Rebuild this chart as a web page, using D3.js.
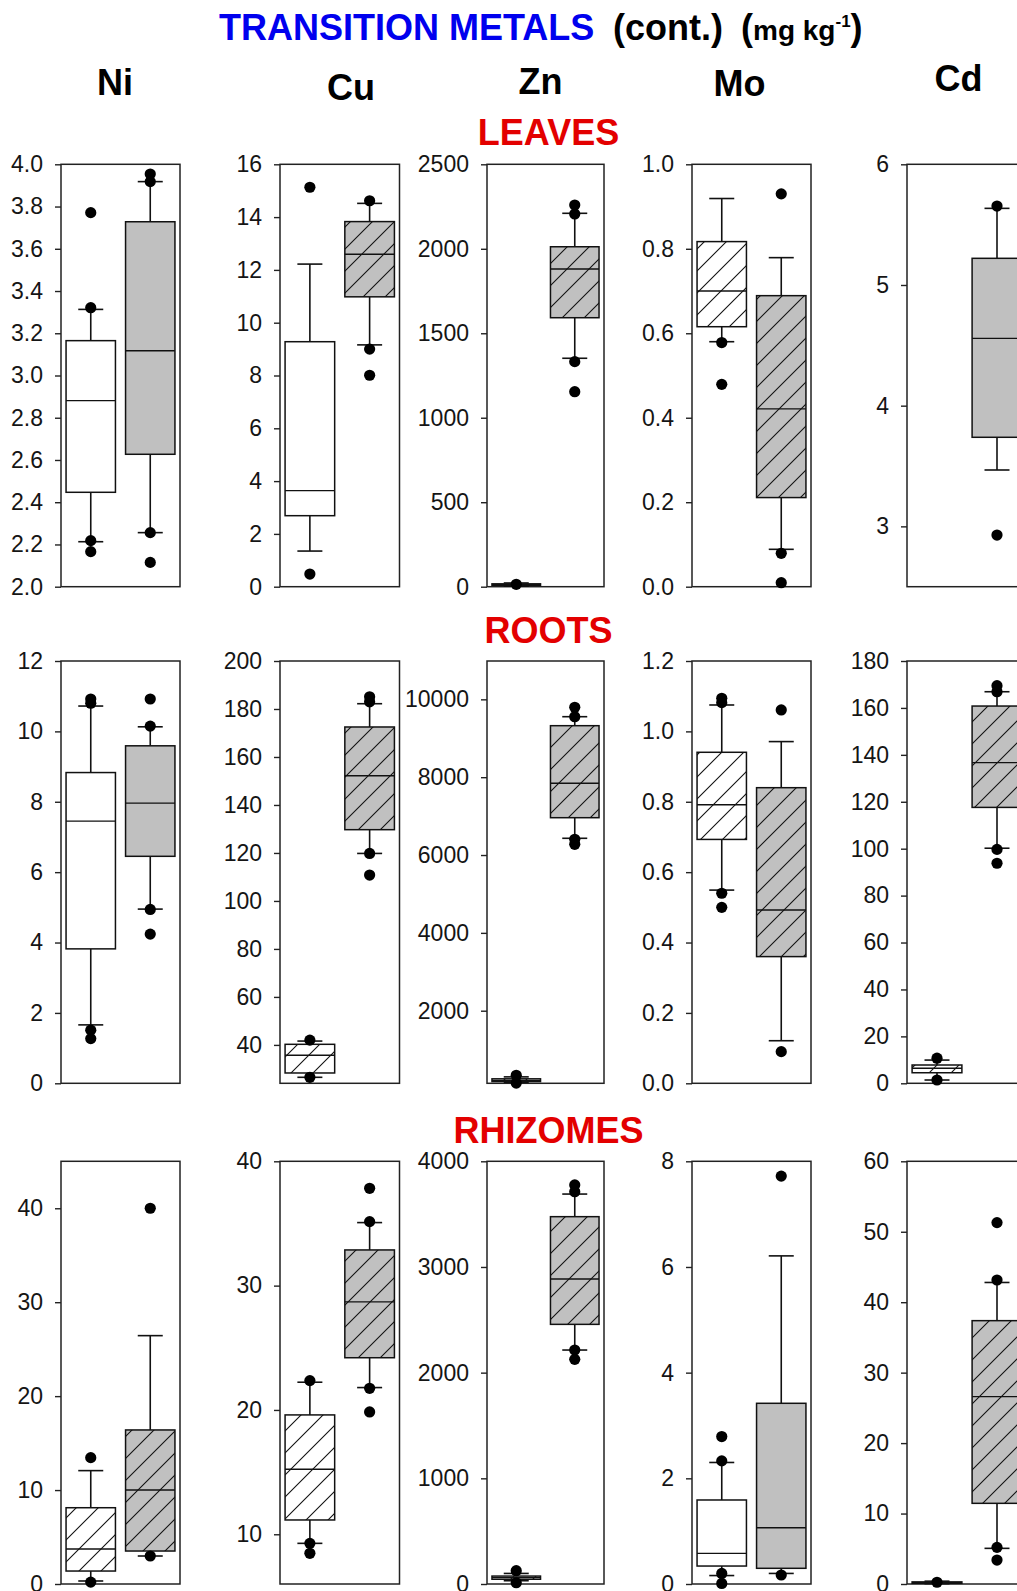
<!DOCTYPE html>
<html>
<head>
<meta charset="utf-8">
<script src="https://cdn.jsdelivr.net/npm/d3@7"></script>
<style>
  body { margin: 0; background: #fff; }
  svg { display: block; }
  text { font-family: "Liberation Sans", Arial, sans-serif; }
</style>
</head>
<body>
<svg id="chart" width="1017" height="1591"></svg>
<script>
// ---- Data -------------------------------------------------------------
const metals = ["Ni", "Cu", "Zn", "Mo", "Cd"];
const tissues = ["LEAVES", "ROOTS", "RHIZOMES"];
const groups = ["A", "B"];

// Box statistics per metal and group: [lower whisker, Q1, median, Q3, upper whisker]
const leavesBoxes = [
  [[2.213, 2.447, 2.881, 3.165, 3.313], [2.256, 2.627, 3.117, 3.728, 3.918]],
  [[1.35, 2.69, 3.64, 9.28, 12.22], [9.16, 10.98, 12.59, 13.83, 14.52]],
  [[3, 8, 12, 17, 22], [1352, 1592, 1880, 2012, 2210]],
  [[0.580, 0.6155, 0.700, 0.817, 0.919], [0.0885, 0.211, 0.421, 0.689, 0.779]],
  [null, [3.467, 3.738, 4.558, 5.221, 5.635]]
];
const rootsBoxes = [
  [[1.66, 3.82, 7.45, 8.83, 10.72], [4.95, 6.45, 7.96, 9.59, 10.13]],
  [[26.5, 28.3, 35.7, 40.25, 41.6], [119.8, 129.7, 152.2, 172.5, 182.2]],
  [[160, 180, 210, 250, 300], [6430, 6959, 7843, 9323, 9554]],
  [[0.549, 0.693, 0.7917, 0.9406, 1.075], [0.121, 0.360, 0.4925, 0.840, 0.971]],
  [[1.4, 4.5, 6.4, 7.8, 9.9], [100.2, 117.6, 136.7, 160.8, 166.9]]
];
const rhizomesBoxes = [
  [[0.32, 1.38, 3.73, 8.12, 12.07], [2.98, 3.51, 10.0, 16.4, 26.44]],
  [[9.27, 11.15, 15.23, 19.6, 22.23], [21.8, 24.2, 28.69, 32.87, 35.07]],
  [[31, 45, 60, 75, 100], [2214, 2457, 2886, 3476, 3690]],
  [[0.16, 0.34, 0.58, 1.59, 2.30], [0.20, 0.297, 1.066, 3.42, 6.21]],
  [[0.05, 0.1, 0.2, 0.3, 0.4], [5.06, 11.45, 26.59, 37.38, 42.8]]
];

// Individual points beyond/at the whiskers
const leavesPoints = [
  [[3.771, 3.321, 2.218, 2.166], [3.954, 3.918, 2.256, 2.115]],
  [[15.13, 0.48], [14.62, 9.0, 8.01]],
  [[14], [2259, 2206, 1332, 1154]],
  [[0.578, 0.479], [0.930, 0.079, 0.0095]],
  [[], [5.654, 2.928]]
];
const rootsPoints = [
  [[10.92, 10.80, 1.51, 1.27], [10.92, 10.15, 4.94, 4.24]],
  [[42.0, 26.5], [185.1, 183.0, 119.8, 110.8]],
  [[340, 140], [9796, 9554, 6404, 6275]],
  [[1.094, 1.0817, 0.540, 0.500], [1.061, 0.0899]],
  [[10.7, 1.4], [169.5, 166.9, 99.7, 93.8]]
];
const rhizomesPoints = [
  [[13.45, 0.2], [40.0, 2.98]],
  [[22.36, 9.27, 8.47], [37.83, 35.15, 21.74, 19.84]],
  [[126, 12], [3776, 3712, 2214, 2126]],
  [[2.79, 2.33, 0.2, 0.01], [7.72, 0.17]],
  [[0.25], [51.3, 43.15, 5.2, 3.4]]
];

// Value axis ranges and tick labels
const leavesDomains = [[2, 4], [0, 16], [0, 2500], [0, 1], [2.5, 6]];
const rootsDomains = [[0, 12], [24, 200], [135, 10985], [0, 1.2], [0, 180]];
const rhizomesDomains = [[0, 45], [6, 40], [0, 4000], [0, 8], [0, 60]];

const leavesTicks = [
  [2.0, 2.2, 2.4, 2.6, 2.8, 3.0, 3.2, 3.4, 3.6, 3.8, 4.0],
  [0, 2, 4, 6, 8, 10, 12, 14, 16],
  [0, 500, 1000, 1500, 2000, 2500],
  [0.0, 0.2, 0.4, 0.6, 0.8, 1.0],
  [3, 4, 5, 6]
];
const rootsTicks = [
  [0, 2, 4, 6, 8, 10, 12],
  [40, 60, 80, 100, 120, 140, 160, 180, 200],
  [2000, 4000, 6000, 8000, 10000],
  [0.0, 0.2, 0.4, 0.6, 0.8, 1.0, 1.2],
  [0, 20, 40, 60, 80, 100, 120, 140, 160, 180]
];
const rhizomesTicks = [
  [0, 10, 20, 30, 40],
  [10, 20, 30, 40],
  [0, 1000, 2000, 3000, 4000],
  [0, 2, 4, 6, 8],
  [0, 10, 20, 30, 40, 50, 60]
];

// ---- Appearance ---------------------------------------------------------
const hatchLeaves = [[false, false], [false, true], [false, true], [true, true], [false, false]];
const hatchRoots = [[false, false], [true, true], [true, true], [true, true], [true, true]];
const hatchRhizomes = [[true, true], [true, true], [true, true], [false, false], [true, true]];
// tick label formats per row and column
const tickFormats = [
  [".1f", "d", "d", ".1f", "d"],
  ["d", "d", "d", ".1f", "d"],
  ["d", "d", "d", "d", "d"]
];

const panelLeft = [61, 280, 487, 692, 907];
const panelWidth = [119, 119.5, 117, 119, 120];
const rowTop = [164.3, 661, 1161.3];
const rowBottom = [586.7, 1083.3, 1584];
const headingX = [115, 351, 540.5, 739.5, 958.5];
const headingY = [95, 99.5, 93.5, 96, 91];
const sectionY = [145, 643, 1143];

const GRAY = "#c0c0c0";
const INK = "#111";

const boxesByTissue = [leavesBoxes, rootsBoxes, rhizomesBoxes];
const pointsByTissue = [leavesPoints, rootsPoints, rhizomesPoints];
const domainsByTissue = [leavesDomains, rootsDomains, rhizomesDomains];
const ticksByTissue = [leavesTicks, rootsTicks, rhizomesTicks];
const hatchByTissue = [hatchLeaves, hatchRoots, hatchRhizomes];

const svg = d3.select("#chart");

// diagonal hatch used on patterned boxes
const defs = svg.append("defs");
defs.append("pattern")
  .attr("id", "hatch")
  .attr("patternUnits", "userSpaceOnUse")
  .attr("width", 22).attr("height", 22)
  .append("path")
  .attr("d", "M-3,3 L3,-3 M0,22 L22,0 M19,25 L25,19")
  .attr("stroke", INK).attr("stroke-width", 1.1);

// ---- Titles -------------------------------------------------------------
svg.append("text").attr("x", 219).attr("y", 39.5)
  .attr("font-size", 36).attr("font-weight", "bold").attr("fill", "#0000ee")
  .text("TRANSITION METALS");
svg.append("text").attr("x", 613).attr("y", 39.5)
  .attr("font-size", 36).attr("font-weight", "bold").attr("fill", "#000")
  .text("(cont.)");
const unit = svg.append("text").attr("x", 741).attr("y", 39.5)
  .attr("font-weight", "bold").attr("fill", "#000");
unit.append("tspan").attr("font-size", 36).text("(");
unit.append("tspan").attr("font-size", 28).text("mg kg");
unit.append("tspan").attr("font-size", 17).attr("dy", -13).text("-1");
unit.append("tspan").attr("font-size", 36).attr("dy", 13).text(")");

svg.selectAll("text.metal").data(metals).join("text")
  .attr("class", "metal")
  .attr("x", (d, i) => headingX[i]).attr("y", (d, i) => headingY[i])
  .attr("text-anchor", "middle").attr("font-size", 36).attr("font-weight", "bold")
  .attr("fill", "#000").text(d => d);

svg.selectAll("text.tissue").data(tissues).join("text")
  .attr("class", "tissue")
  .attr("x", 548.5).attr("y", (d, i) => sectionY[i])
  .attr("text-anchor", "middle").attr("font-size", 36).attr("font-weight", "bold")
  .attr("fill", "#e30000").text(d => d);

// ---- Panels -------------------------------------------------------------
tissues.forEach((tissue, t) => {
  metals.forEach((metal, m) => {
    const L = panelLeft[m], W = panelWidth[m];
    const y = d3.scaleLinear().domain(domainsByTissue[t][m]).range([rowBottom[t], rowTop[t]]);
    const x = d3.scaleBand().domain(groups).range([L, L + W])
      .paddingInner(0.17).paddingOuter(0.085);
    const g = svg.append("g").attr("class", `panel ${tissue}-${metal}`);

    // value axis
    const ax = g.append("g").attr("transform", `translate(${L},0)`)
      .call(d3.axisLeft(y).tickValues(ticksByTissue[t][m])
        .tickFormat(d3.format(tickFormats[t][m]))
        .tickSize(6).tickPadding(12));
    ax.select(".domain").remove();
    ax.selectAll(".tick line").attr("stroke", "#222").attr("stroke-width", 1.4);
    ax.selectAll(".tick text").attr("font-size", 23).attr("fill", "#151515")
      .attr("font-family", "'Liberation Sans', Arial, sans-serif");

    // frame
    g.append("rect").attr("x", L).attr("y", rowTop[t])
      .attr("width", W).attr("height", rowBottom[t] - rowTop[t])
      .attr("fill", "none").attr("stroke", "#222").attr("stroke-width", 1.5);

    groups.forEach((grp, gi) => {
      const s = boxesByTissue[t][m][gi];
      const pts = pointsByTissue[t][m][gi];
      const bx = x(grp), bw = x.bandwidth(), cx = bx + bw / 2;
      const capHalf = 12.5;
      if (s) {
        // whiskers
        g.append("line").attr("x1", cx).attr("x2", cx)
          .attr("y1", y(s[3])).attr("y2", y(s[4]))
          .attr("stroke", INK).attr("stroke-width", 1.6);
        g.append("line").attr("x1", cx).attr("x2", cx)
          .attr("y1", y(s[1])).attr("y2", y(s[0]))
          .attr("stroke", INK).attr("stroke-width", 1.6);
        [s[0], s[4]].forEach(v => {
          g.append("line").attr("x1", cx - capHalf).attr("x2", cx + capHalf)
            .attr("y1", y(v)).attr("y2", y(v))
            .attr("stroke", INK).attr("stroke-width", 1.6);
        });
        // box
        const top = y(s[3]), h = Math.max(y(s[1]) - y(s[3]), 0.5);
        g.append("rect").attr("x", bx).attr("y", top).attr("width", bw).attr("height", h)
          .attr("fill", gi === 0 ? "#fff" : GRAY);
        if (hatchByTissue[t][m][gi]) {
          g.append("rect").attr("x", bx).attr("y", top).attr("width", bw).attr("height", h)
            .attr("fill", "url(#hatch)");
        }
        g.append("rect").attr("x", bx).attr("y", top).attr("width", bw).attr("height", h)
          .attr("fill", "none").attr("stroke", INK).attr("stroke-width", 1.5);
        g.append("line").attr("x1", bx).attr("x2", bx + bw)
          .attr("y1", y(s[2])).attr("y2", y(s[2]))
          .attr("stroke", INK).attr("stroke-width", 1.4);
      }
      g.selectAll(null).data(pts).join("circle")
        .attr("cx", cx).attr("cy", d => y(d)).attr("r", 5.6)
        .attr("fill", "#000");
    });
  });
});
</script>
</body>
</html>
